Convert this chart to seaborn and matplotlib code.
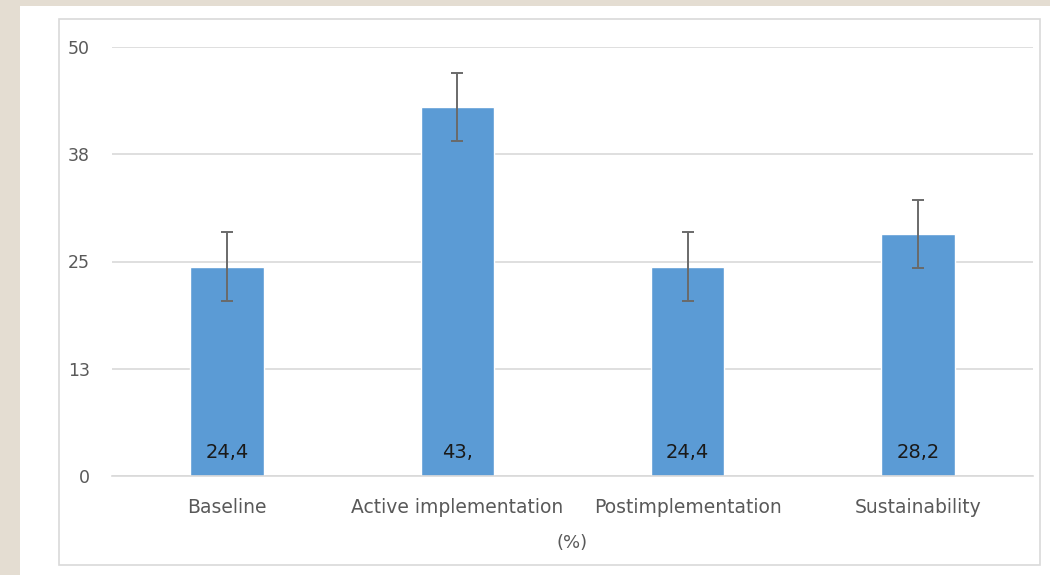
import matplotlib
matplotlib.use("Agg")
import matplotlib.pyplot as plt
import seaborn as sns
import pandas as pd
from matplotlib.patches import Rectangle

# Data
phases = ["Baseline", "Active implementation", "Postimplementation", "Sustainability"]
values = [24.4, 43.0, 24.4, 28.2]
errors = [4.0, 4.0, 4.0, 4.0]
value_labels = ["24,4", "43,", "24,4", "28,2"]
y_ticks = [0, 12.5, 25, 37.5, 50]
y_tick_labels = ["0", "13", "25", "38", "50"]

df = pd.DataFrame({"phase": phases, "value": values})

sns.set_style("white")
plt.rcParams["font.family"] = ["DejaVu Sans"]

fig = plt.figure(figsize=(10.5, 5.75), dpi=100)
fig.patch.set_facecolor("#E4DDD2")

# white card and thin border around the chart area
fig.add_artist(Rectangle((20 / 1050, 0), 1 - 20 / 1050, 1 - 6 / 575,
                         transform=fig.transFigure, facecolor="white",
                         edgecolor="none", zorder=0))
fig.add_artist(Rectangle((59 / 1050, 1 - 565 / 575), (1040 - 59) / 1050, (565 - 19) / 575,
                         transform=fig.transFigure, facecolor="none",
                         edgecolor="#D9D9D9", linewidth=1.2, zorder=1))

ax = fig.add_axes([112 / 1050, 1 - 476 / 575, (1033 - 112) / 1050, (476 - 47) / 575])
ax.set_facecolor("none")

sns.barplot(data=df, x="phase", y="value", color="#5B9BD5", saturation=1,
            width=0.32, errorbar=None, ax=ax, zorder=2)

ax.errorbar(range(len(values)), values, yerr=errors, fmt="none",
            ecolor="#6A6A6A", elinewidth=1.4, capsize=4.3, capthick=1.4, zorder=3)

for i, lab in enumerate(value_labels):
    ax.annotate(lab, (i, 0), xytext=(0, 17), textcoords="offset points",
                ha="center", va="center", fontsize=14, color="#1A1A1A", zorder=4)

ax.set_ylim(0, 50)
ax.set_xlim(-0.5, len(phases) - 0.5)
ax.set_yticks(y_ticks)
ax.set_yticklabels(y_tick_labels)
ax.yaxis.grid(True, color="#D9D9D9", linewidth=1.2)
ax.set_axisbelow(True)
for side in ["top", "right", "left"]:
    ax.spines[side].set_visible(False)
ax.spines["bottom"].set_color("#D9D9D9")
ax.spines["bottom"].set_linewidth(1.2)

ax.tick_params(axis="y", length=0, pad=16, labelsize=12.5, labelcolor="#595959")
ax.tick_params(axis="x", length=0, pad=16, labelsize=13.5, labelcolor="#595959")
ax.set_xlabel("(%)", fontsize=13, color="#595959", labelpad=12)
ax.set_ylabel("")

fig.savefig("out.png", dpi=100, facecolor=fig.get_facecolor())
